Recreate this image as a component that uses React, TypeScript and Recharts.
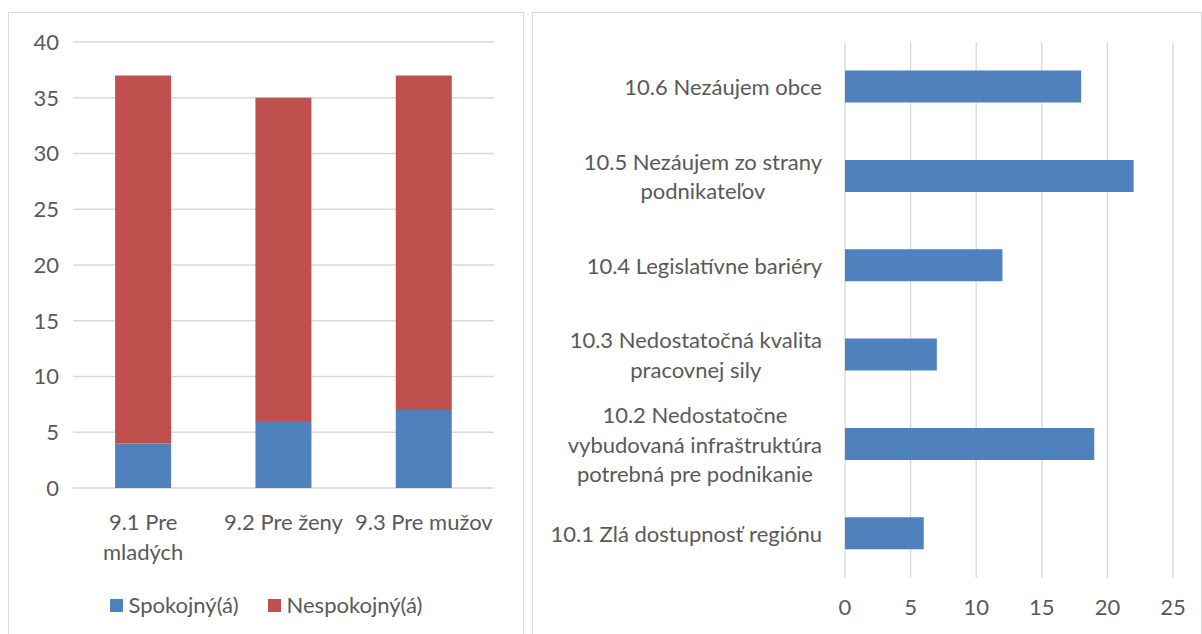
import React from 'react';
import { BarChart, Bar, XAxis, YAxis, CartesianGrid, Legend } from 'recharts';

const leftCategories = ['9.1 Pre\nmladých', '9.2 Pre ženy', '9.3 Pre mužov'];
const spokojny = [4, 6, 7];
const nespokojny = [33, 29, 30];
const leftTicks = [0, 5, 10, 15, 20, 25, 30, 35, 40];
const leftSeriesNames = ['Spokojný(á)', 'Nespokojný(á)'];

const rightCategories = [
  '10.1 Zlá dostupnosť regiónu',
  '10.2 Nedostatočne\nvybudovaná infraštruktúra\npotrebná pre podnikanie',
  '10.3 Nedostatočná kvalita\npracovnej sily',
  '10.4 Legislatívne bariéry',
  '10.5 Nezáujem zo strany\npodnikateľov',
  '10.6 Nezáujem obce',
];
const rightValues = [6, 19, 7, 12, 22, 18];
const rightTicks = [0, 5, 10, 15, 20, 25];

const BLUE = '#4f81bd';
const RED = '#c0504d';
const TEXT = '#595959';
const GRID = '#d9d9d9';
const FONT = 'Lato, "Open Sans", sans-serif';
const FS = 22;

const leftData = leftCategories.map((c, i) => ({ name: c, s: spokojny[i], n: nespokojny[i] }));
const rightData = rightCategories.map((c, i) => ({ name: c, v: rightValues[i] }));

let ctx: CanvasRenderingContext2D | null = null;
function measure(t: string): number {
  if (!ctx) {
    const c = document.createElement('canvas');
    ctx = c.getContext('2d');
  }
  if (!ctx) return t.length * 10;
  ctx.font = `${FS}px ${FONT}`;
  return ctx.measureText(t).width;
}

const LeftXTick = (props: any) => {
  const { x, y, payload } = props;
  const lines = String(payload.value).split('\n');
  return (
    <g>
      {lines.map((l, i) => (
        <text key={i} x={x} y={y + 33 + i * 30} textAnchor="middle" dominantBaseline="central"
          fill={TEXT} fontSize={FS} fontFamily={FONT}>{l}</text>
      ))}
    </g>
  );
};

const RightYTick = (props: any) => {
  const { x, y, payload } = props;
  const lines = String(payload.value).split('\n');
  const w = Math.max(...lines.map(measure));
  const cx = x - w / 2;
  const lh = 29.5;
  return (
    <g>
      {lines.map((l, i) => (
        <text key={i} x={cx} y={y + (i - (lines.length - 1) / 2) * lh} textAnchor="middle" dominantBaseline="central"
          fill={TEXT} fontSize={FS} fontFamily={FONT}>{l}</text>
      ))}
    </g>
  );
};

const LegendContent = () => (
  <div style={{ display: 'flex', justifyContent: 'center', alignItems: 'center', fontFamily: FONT, fontSize: FS, color: TEXT, lineHeight: '20px' }}>
    {[BLUE, RED].map((col, i) => (
      <div key={i} style={{ display: 'flex', alignItems: 'center', marginRight: i === 0 ? 29 : 0 }}>
        <div style={{ width: 13, height: 13, background: col, marginRight: 6 }} />
        <span>{leftSeriesNames[i]}</span>
      </div>
    ))}
  </div>
);

export default function App() {
  return (
    <div>
      <div style={{ position: 'absolute', left: 8, top: 12, width: 516, height: 640, border: `1px solid ${GRID}`, boxSizing: 'border-box', background: '#fff' }}>
        <BarChart width={514} height={620} data={leftData} margin={{ top: 29, right: 29, left: 0, bottom: 75 }} barCategoryGap="30%">
          <CartesianGrid vertical={false} stroke={GRID} strokeWidth={1.3} />
          <XAxis dataKey="name" axisLine={false} tickLine={false} tickSize={0} tickMargin={0} height={70} interval={0} tick={<LeftXTick />} />
          <YAxis domain={[0, 40]} ticks={leftTicks} width={64} axisLine={false} tickLine={false} tickSize={0} tickMargin={14}
            tick={{ fill: TEXT, fontSize: FS, fontFamily: FONT }} />
          <Legend layout="horizontal" verticalAlign="middle" align="center" content={<LegendContent />}
            wrapperStyle={{ top: 582, left: 0, width: 514 }} />
          <Bar dataKey="s" stackId="a" fill={BLUE} isAnimationActive={false} name={leftSeriesNames[0]} />
          <Bar dataKey="n" stackId="a" fill={RED} isAnimationActive={false} name={leftSeriesNames[1]} />
        </BarChart>
      </div>
      <div style={{ position: 'absolute', left: 532, top: 12, width: 670, height: 640, border: `1px solid ${GRID}`, boxSizing: 'border-box', background: '#fff' }}>
        <BarChart width={668} height={620} data={rightData} layout="vertical" margin={{ top: 29, right: 28, left: 0, bottom: 15 }} barCategoryGap="32%">
          <CartesianGrid horizontal={false} stroke={GRID} strokeWidth={1.3} />
          <XAxis type="number" domain={[0, 25]} ticks={rightTicks} height={40} axisLine={false} tickLine={false} tickSize={0} tickMargin={21}
            tick={{ fill: TEXT, fontSize: FS, fontFamily: FONT }} />
          <YAxis type="category" dataKey="name" reversed width={312} axisLine={false} tickLine={false} tickSize={0} tickMargin={23}
            interval={0} tick={<RightYTick />} />
          <Bar dataKey="v" fill={BLUE} isAnimationActive={false} />
        </BarChart>
      </div>
    </div>
  );
}
